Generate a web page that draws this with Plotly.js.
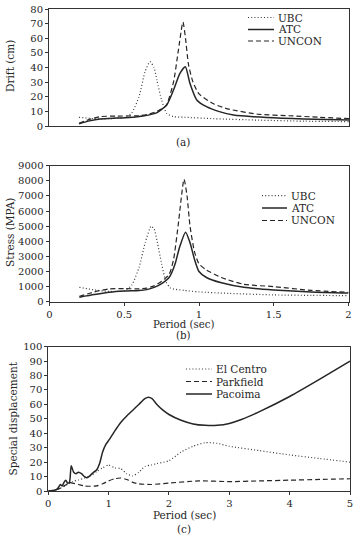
<!DOCTYPE html>
<html>
<head>
<meta charset="utf-8">
<script src="https://cdn.plot.ly/plotly-3.0.1.min.js"></script>
<style>
  html, body { margin: 0; padding: 0; background: #fff; }
  #chart { width: 355px; height: 538px; }
</style>
</head>
<body>
<div id="chart"></div>
<script>
// ---- (a) drift vs. period ----
const driftUBC_x   = [0.2, 0.3, 0.4, 0.5, 0.55, 0.6, 0.64, 0.673, 0.7, 0.72, 0.75, 0.785, 0.83, 0.9, 1.1, 1.4, 1.7, 2.0];
const driftUBC_y   = [6, 5, 5, 6, 8.7, 20, 37, 44, 40, 31, 18, 8.7, 6.4, 6, 5, 4, 3.3, 3];
const driftATC_x   = [0.2, 0.27, 0.34, 0.45, 0.56, 0.61, 0.67, 0.72, 0.785, 0.83, 0.873, 0.909, 0.94, 0.985, 1.05, 1.13, 1.23, 1.45, 1.7, 2.0];
const driftATC_y   = [1.5, 3.5, 4.8, 5.4, 5.9, 6.6, 7.6, 9.1, 14.4, 24.6, 36, 40.5, 29, 17.8, 13.2, 10, 7.5, 5.8, 4.8, 4.1];
const driftUNCON_x = [0.2, 0.27, 0.34, 0.45, 0.6, 0.66, 0.72, 0.78, 0.83, 0.86, 0.893, 0.91, 0.93, 0.96, 1.0, 1.1, 1.2, 1.4, 1.6, 1.8, 2.0];
const driftUNCON_y = [1.8, 4.5, 6.4, 6.8, 7, 8, 10, 14, 30, 50, 71, 60, 42, 30, 22, 15, 11.5, 8, 7, 6, 5];

// ---- (b) stress vs. period ----
const stressUBC_x   = [0.2, 0.3, 0.4, 0.5, 0.55, 0.6, 0.64, 0.68, 0.7, 0.72, 0.75, 0.78, 0.81, 0.9, 1.0, 1.2, 1.5, 1.75, 2.0];
const stressUBC_y   = [950, 780, 680, 720, 1100, 2300, 3900, 5000, 4800, 4000, 2500, 1300, 900, 750, 650, 550, 450, 420, 400];
const stressATC_x   = [0.2, 0.3, 0.4, 0.5, 0.6, 0.65, 0.7, 0.75, 0.8, 0.84, 0.87, 0.91, 0.94, 0.97, 1.0, 1.05, 1.15, 1.3, 1.5, 1.75, 2.0];
const stressATC_y   = [300, 470, 620, 700, 740, 800, 950, 1200, 1600, 2500, 3600, 4600, 3900, 2800, 2000, 1600, 1250, 950, 780, 650, 580];
const stressUNCON_x = [0.2, 0.3, 0.4, 0.5, 0.6, 0.65, 0.7, 0.75, 0.8, 0.83, 0.86, 0.9, 0.92, 0.94, 0.97, 1.0, 1.05, 1.15, 1.3, 1.5, 1.75, 2.0];
const stressUNCON_y = [350, 650, 850, 870, 850, 900, 1050, 1350, 1800, 2800, 5000, 8100, 7000, 5000, 3300, 2500, 2100, 1600, 1150, 1000, 750, 620];

// ---- (c) spectral displacement vs. period ----
const elCentro_x  = [0, 0.1, 0.2, 0.3, 0.4, 0.5, 0.6, 0.7, 0.8, 0.9, 1.0, 1.1, 1.2, 1.3, 1.4, 1.5, 1.6, 1.7, 1.8, 2.0, 2.2, 2.4, 2.6, 2.8, 3.0, 3.5, 4.0, 4.5, 5.0];
const elCentro_y  = [0, 0.5, 2, 4, 6.5, 7.6, 9, 10.5, 13.5, 16, 18, 16, 15.5, 12, 10.5, 13, 17, 18, 19, 21, 27, 31, 33.5, 33, 31, 28, 25, 22.5, 20];
const parkfield_x = [0, 0.1, 0.2, 0.3, 0.35, 0.4, 0.5, 0.6, 0.7, 0.8, 0.9, 1.0, 1.1, 1.2, 1.3, 1.4, 1.5, 1.7, 2.0, 2.5, 3.0, 3.5, 4.0, 4.5, 5.0];
const parkfield_y = [0, 0.5, 2, 4.5, 6, 5.5, 4.5, 3.5, 3.3, 3.5, 5, 7, 8.5, 9, 8, 6, 5, 4.5, 5.5, 7, 6.5, 7, 7.5, 8, 8.5];
const pacoima_x   = [0, 0.1, 0.15, 0.2, 0.23, 0.26, 0.29, 0.32, 0.35, 0.38, 0.42, 0.46, 0.5, 0.55, 0.6, 0.64, 0.7, 0.75, 0.8, 0.85, 0.9, 0.95, 1.0, 1.1, 1.2, 1.3, 1.4, 1.5, 1.6, 1.66, 1.72, 1.8, 1.9, 2.0, 2.2, 2.4, 2.6, 2.8, 3.0, 3.2, 3.5, 4.0, 4.5, 5.0];
const pacoima_y   = [0, 0.5, 1.5, 4.5, 3.5, 6, 7.5, 5.5, 6, 17.5, 13, 12, 13, 12, 10, 9.2, 11, 13, 14.5, 19, 27, 32, 35, 41.5, 47.5, 52, 56, 60, 64, 65, 64, 60, 56, 53, 49, 46.5, 45.5, 45.5, 46.8, 49.5, 55, 65.5, 77.5, 90];

const namesAB = ['UBC', 'ATC', 'UNCON'];
const namesC  = ['El Centro', 'Parkfield', 'Pacoima'];
const ticksB  = [0, 0.5, 1, 1.5, 2];
const ticksBText = ['0', '0.5', '1', '1.5', '2'];

const FONT = 'DejaVu Serif, Liberation Serif, serif';
const INK = '#262626';
const styles = {
  dot:   { color: '#3a3a3a', width: 1.2, dash: '1px,2.2px' },
  solid: { color: INK, width: 1.5, dash: 'solid' },
  dash:  { color: INK, width: 1.2, dash: '5px,3px' }
};

function line(x, y, name, style, xa, ya) {
  return { x: x, y: y, name: name, type: 'scatter', mode: 'lines',
           line: Object.assign({ shape: 'spline', smoothing: 0.6 }, style),
           xaxis: xa, yaxis: ya, showlegend: false, hoverinfo: 'skip' };
}

const traces = [
  line(driftUBC_x,   driftUBC_y,   namesAB[0], styles.dot,   'x',  'y'),
  line(driftATC_x,   driftATC_y,   namesAB[1], styles.solid, 'x',  'y'),
  line(driftUNCON_x, driftUNCON_y, namesAB[2], styles.dash,  'x',  'y'),
  line(stressUBC_x,   stressUBC_y,   namesAB[0], styles.dot,   'x2', 'y2'),
  line(stressATC_x,   stressATC_y,   namesAB[1], styles.solid, 'x2', 'y2'),
  line(stressUNCON_x, stressUNCON_y, namesAB[2], styles.dash,  'x2', 'y2'),
  line(elCentro_x,  elCentro_y,  namesC[0], styles.dot,   'x3', 'y3'),
  line(parkfield_x, parkfield_y, namesC[1], styles.dash,  'x3', 'y3'),
  line(pacoima_x,   pacoima_y,   namesC[2], styles.solid, 'x3', 'y3')
];

const W = 355, H = 538;
const px = v => v / W;
const py = v => 1 - v / H;

const axisBase = {
  showline: true, mirror: true, linecolor: '#333', linewidth: 1,
  ticks: 'outside', ticklen: 3, tickcolor: '#333', tickwidth: 1,
  showgrid: false, zeroline: false, fixedrange: true,
  tickfont: { family: FONT, size: 10, color: INK }
};

// legend keys: a short line sample followed by the series name
const shapes = [], annotations = [];
function legend(names, styleList, x0, x1, ys) {
  names.forEach((n, i) => {
    const s = styleList[i];
    shapes.push({ type: 'line', xref: 'paper', yref: 'paper',
      x0: px(x0), x1: px(x1), y0: py(ys[i]), y1: py(ys[i]),
      line: { color: s.color, width: s.width, dash: s.dash } });
    annotations.push({ xref: 'paper', yref: 'paper', x: px(x1 + 2), y: py(ys[i]),
      xanchor: 'left', yanchor: 'middle', text: n, showarrow: false,
      font: { family: FONT, size: 10.5, color: INK } });
  });
}
legend(namesAB, [styles.dot, styles.solid, styles.dash], 248, 274, [17.5, 29.5, 41]);
legend(namesAB, [styles.dot, styles.solid, styles.dash], 262, 287, [195.7, 208, 220.5]);
legend(namesC,  [styles.dot, styles.dash, styles.solid], 186, 212, [369, 381.5, 394]);

function text(t, x, y, angle, size) {
  annotations.push({ xref: 'paper', yref: 'paper', x: px(x), y: py(y),
    xanchor: 'center', yanchor: 'middle', text: t, showarrow: false, borderpad: 0,
    textangle: angle || 0, font: { family: FONT, size: size || 10.5, color: INK } });
}
text('Drift (cm)', 10, 66, -90);
text('Stress (MPA)', 10, 233, -90);
text('Special displacement', 12.5, 419, -90);
text('(a)', 183, 141.5);
text('Period (sec)', 183, 324, 0, 10.2);
text('(b)', 183, 335.5, 0, 10.2);
text('Period (sec)', 184, 515);
text('(c)', 184, 529);

const layout = {
  width: W, height: H,
  margin: { l: 0, r: 0, t: 0, b: 0 },
  paper_bgcolor: '#fff', plot_bgcolor: '#fff',
  showlegend: false,
  xaxis: Object.assign({}, axisBase, { domain: [px(49), px(349)], range: [0, 2], anchor: 'y',
    showticklabels: false, ticks: '' }),
  yaxis: Object.assign({}, axisBase, { domain: [py(126), py(9)], range: [0, 80], dtick: 10, anchor: 'x' }),
  xaxis2: Object.assign({}, axisBase, { domain: [px(49.5), px(348.5)], range: [0, 2], anchor: 'y2',
    tickvals: ticksB, ticktext: ticksBText }),
  yaxis2: Object.assign({}, axisBase, { domain: [py(301.7), py(165.7)], range: [0, 9000], dtick: 1000,
    tickformat: 'd', anchor: 'x2' }),
  xaxis3: Object.assign({}, axisBase, { domain: [px(48.3), px(350)], range: [0, 5], dtick: 1, anchor: 'y3' }),
  yaxis3: Object.assign({}, axisBase, { domain: [py(491), py(346.7)], range: [0, 100], dtick: 10, anchor: 'x3' }),
  shapes: shapes,
  annotations: annotations
};

Plotly.newPlot('chart', traces, layout, { staticPlot: true, displayModeBar: false });
</script>
</body>
</html>
